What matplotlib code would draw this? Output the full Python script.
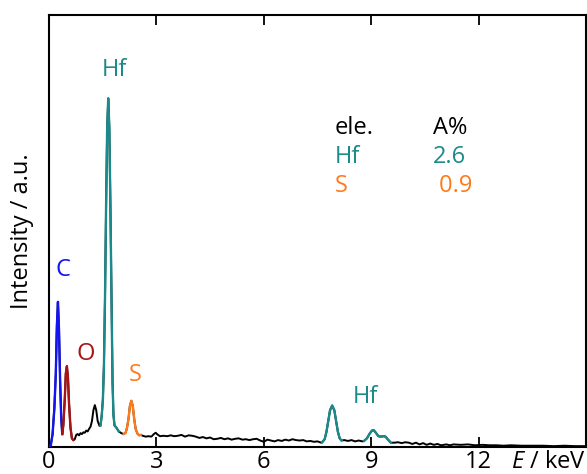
import matplotlib
matplotlib.use("Agg")
import matplotlib.pyplot as plt
import numpy as np

plt.rcParams['font.family'] = ['Open Sans', 'DejaVu Sans']
plt.rcParams['mathtext.fontset'] = 'custom'
plt.rcParams['mathtext.it'] = 'Open Sans:italic'
plt.rcParams['mathtext.rm'] = 'Open Sans'

# Spectrum (energy in keV, intensity a.u.)
energy = [0.00, 0.05, 0.10, 0.15, 0.19, 0.22, 0.25, 0.28, 0.31, 0.34, 0.37,
          0.40, 0.44, 0.47, 0.50, 0.53, 0.56, 0.60, 0.64, 0.68,
          0.72, 0.76, 0.80, 0.84, 0.88, 0.92, 0.96, 1.00, 1.04, 1.08, 1.12, 1.16,
          1.20, 1.24, 1.28, 1.32, 1.36, 1.41,
          1.44, 1.475, 1.505, 1.535, 1.565, 1.595, 1.625, 1.655, 1.685, 1.715,
          1.745, 1.775, 1.80, 1.83, 1.88, 1.95,
          2.02, 2.09,
          2.14, 2.18, 2.22, 2.26, 2.30, 2.34, 2.38, 2.42, 2.47, 2.52, 2.56,
          2.62, 2.70, 2.78, 2.86, 2.93, 2.98, 3.03, 3.10, 3.2, 3.3, 3.4, 3.5,
          3.6, 3.7, 3.8, 3.9, 4.0, 4.1, 4.2, 4.3, 4.4, 4.5, 4.6, 4.7, 4.8, 4.9,
          5.0, 5.1, 5.2, 5.3, 5.4, 5.5, 5.6, 5.7, 5.8, 5.9, 6.0, 6.1, 6.2, 6.3,
          6.4, 6.5, 6.6, 6.7, 6.8, 6.9, 7.0, 7.1, 7.2, 7.3, 7.4, 7.5, 7.6,
          7.63, 7.70, 7.75, 7.80, 7.85, 7.91, 7.97, 8.02, 8.07, 8.12, 8.17,
          8.25, 8.35, 8.45, 8.55, 8.65, 8.75,
          8.80, 8.88, 8.95, 9.02, 9.07, 9.13, 9.20, 9.27, 9.34, 9.40, 9.47, 9.55,
          9.65, 9.75, 9.85, 9.95, 10.05, 10.15, 10.25, 10.35, 10.45, 10.55,
          10.65, 10.75, 10.85, 10.95, 11.1, 11.2, 11.3, 11.5, 11.7, 11.9, 12.1,
          12.3, 12.5, 12.7, 12.9, 13.2, 13.5, 13.8, 14.1, 14.4, 14.7, 15.0]
intensity = [0.000, 0.004, 0.030, 0.090, 0.170, 0.280, 0.336, 0.270, 0.155, 0.070, 0.030,
             0.050, 0.110, 0.170, 0.187, 0.160, 0.100, 0.045, 0.020, 0.016,
             0.018, 0.028, 0.030, 0.027, 0.032, 0.030, 0.034, 0.033, 0.038, 0.036, 0.042, 0.047,
             0.060, 0.085, 0.097, 0.085, 0.060, 0.049,
             0.050, 0.075, 0.110, 0.190, 0.350, 0.560, 0.740, 0.807, 0.740, 0.560,
             0.350, 0.150, 0.075, 0.050, 0.045, 0.036,
             0.032, 0.030,
             0.033, 0.045, 0.065, 0.095, 0.107, 0.095, 0.065, 0.042, 0.031, 0.027, 0.028,
             0.026, 0.024, 0.025, 0.024, 0.030, 0.033, 0.029, 0.025, 0.026, 0.025, 0.027, 0.025,
             0.026, 0.028, 0.024, 0.027, 0.026, 0.024, 0.021, 0.023, 0.020, 0.022, 0.018, 0.019, 0.021, 0.018,
             0.020, 0.017, 0.019, 0.020, 0.017, 0.018, 0.016, 0.018, 0.019, 0.015, 0.012, 0.017, 0.015, 0.013,
             0.016, 0.014, 0.017, 0.015, 0.018, 0.016, 0.015, 0.016, 0.013, 0.014, 0.012, 0.013, 0.010,
             0.011, 0.018, 0.035, 0.060, 0.085, 0.096, 0.085, 0.060, 0.035, 0.020, 0.015,
             0.016, 0.014, 0.016, 0.013, 0.015, 0.013,
             0.014, 0.020, 0.030, 0.038, 0.039, 0.033, 0.025, 0.024, 0.025, 0.024, 0.017, 0.010,
             0.010, 0.011, 0.009, 0.011, 0.010, 0.007, 0.010, 0.006, 0.009, 0.005,
             0.008, 0.005, 0.007, 0.004, 0.006, 0.004, 0.006, 0.005, 0.006, 0.004, 0.005,
             0.004, 0.004, 0.003, 0.004, 0.003, 0.003, 0.003, 0.002, 0.003, 0.002, 0.002]

# Coloured element segments: (start keV, end keV, colour)
seg_start = [0.00, 0.37, 1.44, 2.09, 7.63, 8.80]
seg_end = [0.37, 0.68, 1.95, 2.56, 8.17, 9.55]
seg_color = ['#1414f0', '#a81414', '#1a8a8a', '#ff7a1a', '#1a8a8a', '#1a8a8a']

# Peak labels
lab_text = ['C', 'O', 'Hf', 'S', 'Hf']
lab_x = [0.39, 1.03, 1.82, 2.40, 8.85]
lab_y = [0.41, 0.215, 0.873, 0.167, 0.116]
lab_color = ['#1414f0', '#a81414', '#1a8a8a', '#ff7a1a', '#1a8a8a']

# Composition table
tab_ele = ['ele.', 'Hf', 'S']
tab_val = ['A%', '2.6', ' 0.9']
tab_color = ['black', '#1a8a8a', '#ff7a1a']

xticks = [0, 3, 6, 9, 12]

fig = plt.figure(figsize=(5.87, 4.74), dpi=100)
ax = fig.add_axes([49/587, 27/474, 537/587, 432/474])

E = np.array(energy)
I = np.array(intensity)
ax.plot(E, I, color='black', lw=1.4, zorder=2)
for s, e, c in zip(seg_start, seg_end, seg_color):
    m = (E >= s - 1e-9) & (E <= e + 1e-9)
    ax.plot(E[m], I[m], color=c, lw=1.7, zorder=3)

for t, x, y, c in zip(lab_text, lab_x, lab_y, lab_color):
    ax.text(x, y, t, color=c, fontsize=17, ha='center', va='center')

row_y = [0.738, 0.671, 0.604]
for yy, a, b, c in zip(row_y, tab_ele, tab_val, tab_color):
    ax.text(7.99, yy, a, color=c, fontsize=17, ha='left', va='center')
    ax.text(10.73, yy, b, color=c, fontsize=17, ha='left', va='center')

ax.set_xlim(0, 15)
ax.set_ylim(0, 1.0)
ax.set_xticks(xticks)
ax.set_xticklabels([str(v) for v in xticks])
ax.set_yticks([])
ax.tick_params(axis='x', direction='in', length=7, width=1.3, top=True,
               labelsize=17, pad=2)
for sp in ax.spines.values():
    sp.set_linewidth(1.5)
ax.set_ylabel('Intensity / a.u.', fontsize=17, labelpad=11)
ax.text(1.0, -0.008, r'$E$ / keV', transform=ax.transAxes, ha='right', va='top',
        fontsize=17)

fig.savefig('out.png', dpi=100)
